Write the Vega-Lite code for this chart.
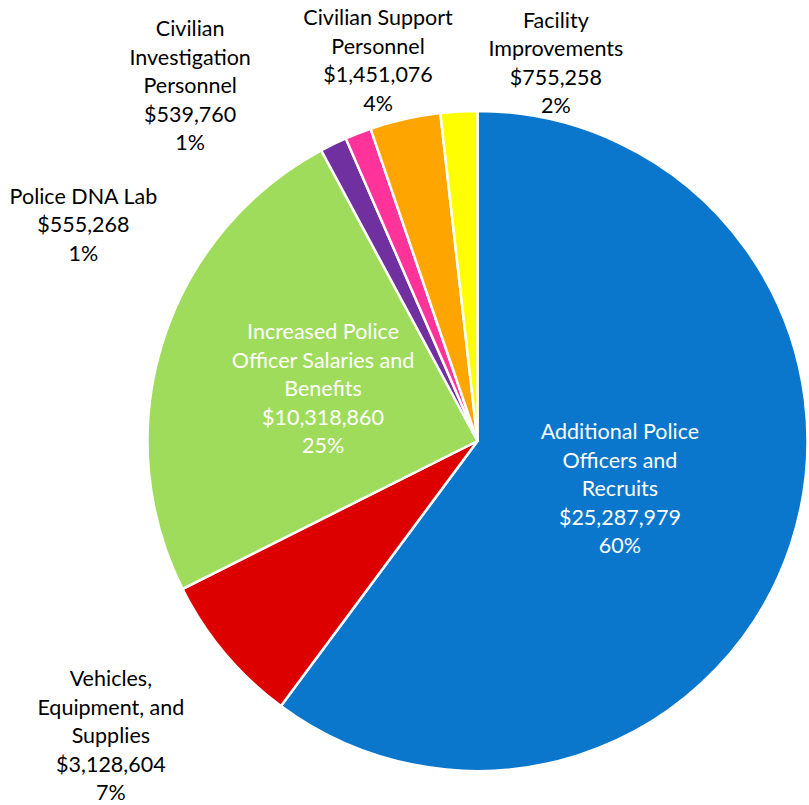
{
  "$schema": "https://vega.github.io/schema/vega-lite/v6.json",
  "width": 663,
  "height": 728,
  "autosize": "none",
  "padding": {"left": 146, "top": 77, "right": 0, "bottom": 0},
  "background": "white",
  "config": {"view": {"stroke": null}},
  "data": {
    "values": [
      {"rank": 1, "name": "Additional Police Officers and Recruits", "amount": 25287979, "label": "Additional Police\nOfficers and\nRecruits\n$25,287,979\n60%"},
      {"rank": 2, "name": "Vehicles, Equipment, and Supplies", "amount": 3128604, "label": "Vehicles,\nEquipment, and\nSupplies\n$3,128,604\n7%"},
      {"rank": 3, "name": "Increased Police Officer Salaries and Benefits", "amount": 10318860, "label": "Increased Police\nOfficer Salaries and\nBenefits\n$10,318,860\n25%"},
      {"rank": 4, "name": "Police DNA Lab", "amount": 555268, "label": "Police DNA Lab\n$555,268\n1%"},
      {"rank": 5, "name": "Civilian Investigation Personnel", "amount": 539760, "label": "Civilian\nInvestigation\nPersonnel\n$539,760\n1%"},
      {"rank": 6, "name": "Civilian Support Personnel", "amount": 1451076, "label": "Civilian Support\nPersonnel\n$1,451,076\n4%"},
      {"rank": 7, "name": "Facility Improvements", "amount": 755258, "label": "Facility\nImprovements\n$755,258\n2%"}
    ]
  },
  "encoding": {
    "theta": {"field": "amount", "type": "quantitative", "stack": true},
    "order": {"field": "rank", "type": "quantitative", "sort": "ascending"}
  },
  "layer": [
    {
      "mark": {"type": "arc", "outerRadius": 330, "stroke": "white", "strokeWidth": 2.5},
      "encoding": {
        "color": {
          "field": "name",
          "type": "nominal",
          "scale": {
            "domain": ["Additional Police Officers and Recruits", "Vehicles, Equipment, and Supplies", "Increased Police Officer Salaries and Benefits", "Police DNA Lab", "Civilian Investigation Personnel", "Civilian Support Personnel", "Facility Improvements"],
            "range": ["#0a77cc", "#dd0000", "#a0dc5c", "#7030a0", "#ff3399", "#ffa500", "#ffff00"]
          },
          "legend": null
        }
      }
    },
    {
      "mark": {"type": "text", "radius": 150, "dy": -55, "font": "Lato", "fontSize": 21.5, "lineHeight": 28.5, "lineBreak": "\n", "align": "center", "baseline": "middle", "color": "white"},
      "encoding": {"text": {"condition": {"test": "datum.rank === 1", "field": "label"}, "value": ""}}
    },
    {
      "mark": {"type": "text", "radius": 162, "dy": -59, "font": "Lato", "fontSize": 21.5, "lineHeight": 28.5, "lineBreak": "\n", "align": "center", "baseline": "middle", "color": "white"},
      "encoding": {"text": {"condition": {"test": "datum.rank === 3", "field": "label"}, "value": ""}}
    },
    {
      "mark": {"type": "text", "radius": 330, "dx": -114, "dy": 27, "font": "Lato", "fontSize": 21.5, "lineHeight": 28.5, "lineBreak": "\n", "align": "center", "baseline": "middle", "color": "black"},
      "encoding": {"text": {"condition": {"test": "datum.rank === 2", "field": "label"}, "value": ""}}
    },
    {
      "mark": {"type": "text", "radius": 330, "dx": -250, "dy": 53.5, "font": "Lato", "fontSize": 21.5, "lineHeight": 28.5, "lineBreak": "\n", "align": "center", "baseline": "middle", "color": "black"},
      "encoding": {"text": {"condition": {"test": "datum.rank === 4", "field": "label"}, "value": ""}}
    },
    {
      "mark": {"type": "text", "radius": 330, "dx": -168, "dy": -103, "font": "Lato", "fontSize": 21.5, "lineHeight": 28.5, "lineBreak": "\n", "align": "center", "baseline": "middle", "color": "black"},
      "encoding": {"text": {"condition": {"test": "datum.rank === 5", "field": "label"}, "value": ""}}
    },
    {
      "mark": {"type": "text", "radius": 330, "dx": -27, "dy": -100, "font": "Lato", "fontSize": 21.5, "lineHeight": 28.5, "lineBreak": "\n", "align": "center", "baseline": "middle", "color": "black"},
      "encoding": {"text": {"condition": {"test": "datum.rank === 6", "field": "label"}, "value": ""}}
    },
    {
      "mark": {"type": "text", "radius": 330, "dx": 97, "dy": -90, "font": "Lato", "fontSize": 21.5, "lineHeight": 28.5, "lineBreak": "\n", "align": "center", "baseline": "middle", "color": "black"},
      "encoding": {"text": {"condition": {"test": "datum.rank === 7", "field": "label"}, "value": ""}}
    }
  ]
}
